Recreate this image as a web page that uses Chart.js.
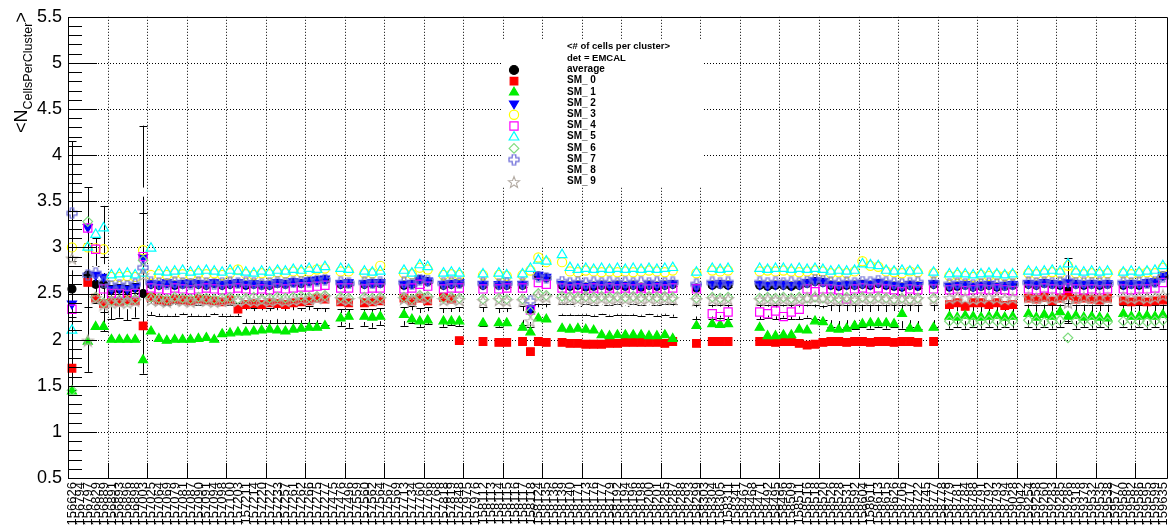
<!DOCTYPE html>
<html>
<head>
<meta charset="utf-8">
<script src="https://cdn.jsdelivr.net/npm/chart.js@4.4.1/dist/chart.umd.min.js"></script>
<style>
  html, body { margin: 0; padding: 0; background: #fff; }
  canvas { display: block; }
</style>
</head>
<body>
<canvas id="canvas" width="1174" height="527"></canvas>
<script>
// run numbers (x categories)
var runs = [
  '156626','156794','156797','156829','156889','156891','156893','156896','156898','157003',
  '157025','157064','157069','157079','157081','157087','157090','157091','157094','157098',
  '157100','157203','157211','157214','157220','157227','157233','157257','157261','157262',
  '157266','157275','157277','157475','157476','157496','157559','157560','157562','157564',
  '157567','157569','157713','157734','157760','157766','157768','157818','157819','157848',
  '157975','157976','158112','158113','158114','158115','158116','158117','158118','158124',
  '158135','158136','158139','158140','158171','158173','158176','158177','158179','158192',
  '158194','158196','158198','158200','158201','158285','158287','158288','158293','158299',
  '158303','158304','158305','158311','158341','158467','158468','158471','158492','158495',
  '158496','158509','158511','158516','158518','158520','158526','158528','158531','158592',
  '158604','158611','158613','158615','158626','158706','158717','158722','158745','158777',
  '158778','158779','158781','158784','158788','158791','158792','158793','158794','159028',
  '159042','159254','159258','159260','159283','159285','159286','159318','159379','159532',
  '159535','159538','159577','159580','159582','159586','159595','159599','159635'
];

var average = [
  2.55,null,2.7,2.6,2.6,2.54,2.55,2.54,2.56,2.5,
  2.6,2.59,2.61,2.59,2.6,2.61,2.6,2.59,2.61,2.59,
  2.6,2.61,2.59,2.6,2.59,2.59,2.61,2.6,2.62,2.61,
  2.63,2.64,2.65,null,2.6,2.61,null,2.6,2.61,2.61,
  null,null,2.59,2.6,2.65,2.63,null,2.59,2.6,2.61,
  null,null,2.59,null,2.59,2.59,null,2.59,2.33,2.69,
  2.67,null,2.59,2.58,2.59,2.57,2.58,2.59,2.58,2.59,
  2.58,2.59,2.57,2.59,2.58,2.59,2.6,null,null,2.56,
  null,2.59,2.6,2.59,null,null,null,2.59,2.58,2.59,
  2.59,2.58,2.59,2.61,2.63,2.62,2.59,2.58,2.59,2.59,
  2.6,2.59,2.61,2.59,2.58,2.57,2.59,2.58,null,2.6,
  null,2.57,2.58,2.59,2.57,2.58,2.59,2.57,2.58,2.59,
  null,2.6,2.59,2.61,2.6,2.59,2.53,2.6,2.59,2.6,
  2.59,2.6,null,2.59,2.6,2.59,2.61,2.62,2.69
];
var averageErr = [
  0.3,null,0.35,0.2,0.3,0.05,0.05,0.05,0.05,0.87,
  0.02,0.02,0.02,0.02,0.02,0.02,0.02,0.02,0.02,0.02,
  0.02,0.02,0.02,0.02,0.02,0.02,0.02,0.02,0.02,0.02,
  0.02,0.02,0.02,null,0.02,0.02,null,0.02,0.02,0.02,
  null,null,0.02,0.02,0.02,0.02,null,0.02,0.02,0.02,
  null,null,0.02,null,0.02,0.02,null,0.02,0.03,0.02,
  0.02,null,0.02,0.02,0.02,0.02,0.02,0.02,0.02,0.02,
  0.02,0.02,0.02,0.02,0.02,0.02,0.02,null,null,0.02,
  null,0.02,0.02,0.02,null,null,null,0.02,0.02,0.02,
  0.02,0.02,0.02,0.02,0.02,0.02,0.02,0.02,0.02,0.02,
  0.02,0.02,0.02,0.02,0.02,0.02,0.02,0.02,null,0.02,
  null,0.02,0.02,0.02,0.02,0.02,0.02,0.02,0.02,0.02,
  null,0.02,0.02,0.02,0.02,0.02,0.35,0.02,0.02,0.02,
  0.02,0.02,null,0.02,0.02,0.02,0.02,0.02,0.02
];

var sm0 = [
  1.69,null,2.62,2.45,2.39,2.42,2.41,2.43,2.42,2.15,
  2.46,2.43,2.42,2.44,2.43,2.42,2.44,2.43,2.42,2.41,
  2.43,2.33,2.38,2.39,2.38,2.4,2.39,2.38,2.4,2.41,
  2.42,2.45,2.44,null,2.41,2.4,null,2.4,2.41,2.42,
  null,null,2.45,2.42,2.45,2.42,null,2.46,2.44,1.99,
  null,null,1.98,null,1.97,1.97,null,1.98,1.87,1.98,
  1.97,null,1.97,1.96,1.96,1.95,1.95,1.95,1.96,1.96,
  1.97,1.97,1.97,1.97,1.97,1.96,1.98,null,null,1.96,
  null,1.98,1.98,1.98,null,null,null,1.98,1.98,1.97,
  1.98,1.98,1.96,1.94,1.95,1.97,1.98,1.98,1.97,1.98,
  1.98,1.97,1.98,1.98,1.97,1.98,1.98,1.97,null,1.98,
  null,2.38,2.4,2.36,2.4,2.4,2.38,2.4,2.37,2.38,
  null,2.45,2.44,2.46,2.42,2.45,2.48,2.44,2.45,2.44,
  2.43,2.45,null,2.42,2.41,2.42,2.41,2.42,2.43
];
var sm1 = [
  1.44,null,1.98,2.14,2.14,2.0,2.0,2.0,2.0,1.78,
  2.09,2.01,1.99,2.0,2.0,2.0,2.01,2.02,2.0,2.06,
  2.07,2.08,2.08,2.09,2.1,2.11,2.1,2.09,2.11,2.12,
  2.13,2.13,2.15,null,2.23,2.25,null,2.25,2.24,2.25,
  null,null,2.27,2.22,2.2,2.21,null,2.2,2.2,2.2,
  null,null,2.18,null,2.18,2.18,null,2.13,2.08,2.23,
  2.22,null,2.12,2.11,2.12,2.11,2.1,2.05,2.04,2.05,
  2.05,2.05,2.05,2.04,2.04,2.05,2.01,null,null,2.15,
  null,2.17,2.16,2.17,null,null,null,2.13,2.04,2.04,
  2.05,2.05,2.11,2.1,2.2,2.19,2.12,2.11,2.12,2.15,
  2.17,2.18,2.18,2.18,2.17,2.28,2.12,2.12,null,2.13,
  null,2.25,2.24,2.26,2.25,2.24,2.25,2.26,2.24,2.25,
  null,2.28,2.24,2.27,2.25,2.3,2.25,2.26,2.24,2.25,
  2.24,2.23,null,2.28,2.25,2.25,2.26,2.25,2.27
];
var sm2 = [
  2.39,null,3.22,2.7,2.68,2.55,2.56,2.55,2.57,2.89,
  2.61,2.6,2.62,2.6,2.61,2.62,2.61,2.6,2.62,2.6,
  2.61,2.62,2.6,2.61,2.6,2.6,2.62,2.61,2.63,2.62,
  2.64,2.65,2.66,null,2.61,2.62,null,2.61,2.62,2.62,
  null,null,2.6,2.61,2.66,2.64,null,2.6,2.61,2.62,
  null,null,2.6,null,2.6,2.6,null,2.6,2.34,2.7,
  2.68,null,2.6,2.59,2.6,2.58,2.59,2.6,2.59,2.6,
  2.59,2.6,2.58,2.6,2.59,2.6,2.61,null,null,2.57,
  null,2.6,2.61,2.6,null,null,null,2.6,2.59,2.6,
  2.6,2.59,2.6,2.62,2.64,2.63,2.6,2.59,2.6,2.6,
  2.61,2.6,2.62,2.6,2.59,2.58,2.6,2.59,null,2.61,
  null,2.58,2.59,2.6,2.58,2.59,2.6,2.58,2.59,2.6,
  null,2.61,2.6,2.62,2.61,2.6,2.62,2.61,2.6,2.61,
  2.6,2.61,null,2.6,2.61,2.6,2.62,2.63,2.7
];
var sm3 = [
  3.0,null,3.0,2.99,2.98,2.68,2.68,2.69,2.68,2.97,
  2.7,2.71,2.7,2.72,2.71,2.7,2.72,2.71,2.72,2.7,
  2.72,2.76,2.71,2.7,2.72,2.71,2.73,2.72,2.74,2.73,
  2.74,2.76,2.77,null,2.74,2.74,null,2.72,2.72,2.8,
  null,null,2.72,2.71,2.78,2.76,null,2.7,2.71,2.7,
  null,null,2.7,null,2.7,2.69,null,2.7,2.75,2.89,
  2.84,null,2.84,2.74,2.73,2.75,2.74,2.73,2.74,2.73,
  2.74,2.73,2.74,2.75,2.74,2.73,2.75,null,null,2.72,
  null,2.75,2.74,2.75,null,null,null,2.74,2.75,2.74,
  2.75,2.74,2.73,2.74,2.75,2.74,2.72,2.73,2.72,2.74,
  2.85,2.8,2.79,2.74,2.73,2.72,2.74,2.73,null,2.72,
  null,2.69,2.7,2.69,2.68,2.7,2.69,2.7,2.69,2.7,
  null,2.72,2.71,2.72,2.73,2.72,2.8,2.72,2.71,2.72,
  2.71,2.72,null,2.72,2.71,2.72,2.73,2.72,2.78
];
var sm4 = [
  2.33,null,3.21,2.98,2.55,2.5,2.5,2.49,2.5,2.9,
  2.56,2.55,2.54,2.56,2.55,2.54,2.55,2.56,2.55,2.54,
  2.55,2.56,2.55,2.54,2.55,2.54,2.56,2.55,2.56,2.57,
  2.57,2.58,2.59,null,2.56,2.56,null,2.55,2.56,2.56,
  null,null,2.55,2.56,2.6,2.58,null,2.55,2.56,2.56,
  null,null,2.55,null,2.55,2.56,null,2.56,2.32,2.62,
  2.6,null,2.56,2.55,2.56,2.55,2.56,2.55,2.56,2.55,
  2.56,2.55,2.56,2.55,2.56,2.55,2.56,null,null,2.55,
  null,2.28,2.25,2.3,null,null,null,2.3,2.28,2.31,
  2.25,2.3,2.33,2.55,2.52,2.55,2.55,2.54,2.44,2.55,
  2.56,2.55,2.56,2.55,2.54,2.52,2.55,2.54,null,2.55,
  null,2.54,2.55,2.53,2.54,2.55,2.54,2.55,2.54,2.53,
  null,2.55,2.54,2.56,2.55,2.54,2.56,2.55,2.54,2.55,
  2.54,2.55,null,2.55,2.54,2.55,2.55,2.56,2.62
];
var sm5 = [
  2.1,null,3.0,3.14,3.21,2.7,2.71,2.72,2.7,2.72,
  2.99,2.74,2.73,2.74,2.75,2.73,2.74,2.75,2.74,2.73,
  2.75,2.74,2.73,2.72,2.74,2.73,2.75,2.74,2.76,2.75,
  2.77,2.76,2.79,null,2.77,2.76,null,2.74,2.73,2.74,
  null,null,2.75,2.72,2.81,2.79,null,2.72,2.73,2.72,
  null,null,2.71,null,2.72,2.7,null,2.71,2.77,2.86,
  2.85,null,2.92,2.78,2.76,2.77,2.76,2.77,2.76,2.77,
  2.76,2.77,2.76,2.77,2.76,2.77,2.78,null,null,2.73,
  null,2.77,2.76,2.77,null,null,null,2.77,2.76,2.77,
  2.77,2.76,2.77,2.76,2.77,2.76,2.74,2.75,2.74,2.75,
  2.82,2.81,2.8,2.75,2.74,2.75,2.74,2.75,null,2.73,
  null,2.71,2.72,2.71,2.7,2.71,2.72,2.71,2.7,2.71,
  null,2.74,2.73,2.74,2.75,2.74,2.82,2.74,2.73,2.74,
  2.73,2.74,null,2.73,2.74,2.73,2.74,2.75,2.8
];
var sm6 = [
  1.45,null,3.28,2.46,2.4,2.42,2.43,2.42,2.44,2.86,
  2.46,2.45,2.44,2.46,2.45,2.44,2.46,2.45,2.44,2.45,
  2.46,2.44,2.45,2.46,2.44,2.45,2.46,2.45,2.46,2.47,
  2.46,2.47,2.48,null,2.46,2.45,null,2.46,2.45,2.46,
  null,null,2.46,2.44,2.48,2.47,null,2.45,2.46,2.45,
  null,null,2.44,null,2.45,2.44,null,2.44,2.3,2.5,
  2.48,null,2.47,2.47,2.46,2.47,2.46,2.47,2.46,2.47,
  2.46,2.47,2.46,2.47,2.46,2.47,2.46,null,null,2.45,
  null,2.46,2.45,2.46,null,null,null,2.45,2.46,2.45,
  2.46,2.45,2.46,2.45,2.46,2.45,2.46,2.45,2.46,2.45,
  2.46,2.45,2.46,2.45,2.44,2.45,2.44,2.45,null,2.45,
  null,2.2,2.21,2.2,2.19,2.2,2.21,2.2,2.19,2.2,
  null,2.21,2.2,2.19,2.2,2.21,2.02,2.2,2.21,2.2,
  2.2,2.19,null,2.2,2.21,2.2,2.19,2.2,2.21
];
var sm7 = [
  3.37,null,2.7,2.72,2.62,2.58,2.59,2.58,2.6,2.78,
  2.62,2.61,2.6,2.62,2.61,2.6,2.62,2.61,2.6,2.61,
  2.62,2.61,2.62,2.61,2.6,2.61,2.62,2.61,2.62,2.63,
  2.63,2.64,2.65,null,2.62,2.61,null,2.62,2.61,2.62,
  null,null,2.62,2.6,2.65,2.64,null,2.61,2.62,2.61,
  null,null,2.61,null,2.6,2.61,null,2.61,2.42,2.68,
  2.67,null,2.63,2.61,2.62,2.61,2.62,2.61,2.62,2.61,
  2.62,2.61,2.62,2.61,2.62,2.61,2.62,null,null,2.6,
  null,2.62,2.61,2.62,null,null,null,2.62,2.61,2.62,
  2.61,2.62,2.61,2.63,2.65,2.64,2.62,2.61,2.62,2.61,
  2.63,2.62,2.64,2.62,2.61,2.6,2.61,2.62,null,2.62,
  null,2.6,2.61,2.6,2.59,2.6,2.61,2.6,2.59,2.6,
  null,2.62,2.61,2.62,2.61,2.62,2.64,2.61,2.62,2.61,
  2.62,2.61,null,2.62,2.61,2.62,2.61,2.63,2.68
];
var sm8 = [
  2.8,null,2.65,2.75,2.77,2.4,2.4,2.38,2.4,3.6,
  2.35,2.33,2.32,2.33,2.34,2.33,2.32,2.33,2.34,2.33,
  2.32,2.33,2.27,2.26,2.27,2.26,2.27,2.26,2.27,2.26,
  2.27,2.26,2.25,null,2.24,2.23,null,2.24,2.23,2.25,
  null,null,2.25,2.27,2.24,2.26,null,2.24,2.25,2.25,
  null,null,2.25,null,2.24,2.25,null,2.26,2.24,2.3,
  2.3,null,2.33,2.33,2.32,2.33,2.32,2.33,2.32,2.33,
  2.32,2.33,2.32,2.33,2.32,2.33,2.32,null,null,2.3,
  null,2.3,2.31,2.3,null,null,null,2.3,2.31,2.3,
  2.31,2.3,2.3,2.31,2.3,2.29,2.26,2.25,2.26,2.25,
  2.26,2.25,2.26,2.25,2.26,2.25,2.26,2.25,null,2.26,
  null,2.25,2.26,2.25,2.26,2.25,2.26,2.25,2.26,2.25,
  null,2.26,2.25,2.26,2.25,2.26,2.3,2.25,2.26,2.25,
  2.26,2.25,null,2.26,2.25,2.26,2.25,2.26,2.25
];
var sm8Err = [
  1.35,null,1.0,0.35,0.68,0.18,0.16,0.17,0.16,0.72,
  0.08,0.07,0.06,0.07,0.06,0.07,0.06,0.07,0.06,0.07,
  0.06,0.07,0.09,0.08,0.09,0.08,0.09,0.08,0.09,0.08,
  0.09,0.08,0.09,null,0.09,0.1,null,0.09,0.1,0.09,
  null,null,0.1,0.09,0.1,0.09,null,0.1,0.09,0.1,
  null,null,0.1,null,0.1,0.09,null,0.1,0.1,0.09,
  0.09,null,0.06,0.06,0.05,0.06,0.06,0.05,0.06,0.06,
  0.05,0.06,0.06,0.05,0.06,0.06,0.07,null,null,0.08,
  null,0.08,0.07,0.08,null,null,null,0.08,0.07,0.08,
  0.07,0.08,0.08,0.07,0.08,0.08,0.12,0.13,0.12,0.13,
  0.12,0.13,0.12,0.13,0.12,0.13,0.12,0.13,null,0.12,
  null,0.13,0.12,0.13,0.12,0.13,0.12,0.13,0.12,0.13,
  null,0.12,0.13,0.12,0.13,0.12,0.1,0.13,0.12,0.13,
  0.12,0.13,null,0.12,0.13,0.12,0.13,0.12,0.13
];
var sm9 = [
  2.88,null,1.99,2.45,2.38,2.4,2.41,2.4,2.42,2.7,
  2.43,2.42,2.41,2.43,2.42,2.41,2.43,2.42,2.41,2.42,
  2.43,2.42,2.43,2.42,2.43,2.42,2.43,2.42,2.43,2.44,
  2.44,2.45,2.46,null,2.44,2.43,null,2.44,2.43,2.44,
  null,null,2.44,2.42,2.46,2.45,null,2.43,2.44,2.43,
  null,null,2.42,null,2.43,2.42,null,2.42,2.2,2.47,
  2.46,null,2.44,2.45,2.44,2.45,2.44,2.45,2.44,2.45,
  2.44,2.45,2.44,2.45,2.44,2.45,2.44,null,null,2.43,
  null,2.44,2.43,2.44,null,null,null,2.43,2.44,2.43,
  2.44,2.43,2.44,2.45,2.46,2.45,2.44,2.43,2.44,2.43,
  2.45,2.44,2.45,2.44,2.43,2.44,2.43,2.44,null,2.44,
  null,2.45,2.46,2.45,2.44,2.45,2.46,2.45,2.44,2.45,
  null,2.46,2.45,2.46,2.45,2.46,2.4,2.45,2.46,2.45,
  2.46,2.45,null,2.46,2.45,2.46,2.45,2.46,2.48
];

var legendTitle = '<# of cells per cluster>';
var legendDet = 'det = EMCAL';

[average, averageErr, sm0, sm1, sm2, sm3, sm4, sm5, sm6, sm7, sm8, sm8Err, sm9].forEach(function(a, i) {
  if (a.length !== runs.length) throw new Error('array ' + i + ' has ' + a.length + ' values');
});

// ROOT-like open markers drawn on small canvases
function openCross(color) {
  var c = document.createElement('canvas');
  c.width = 12; c.height = 12;
  var g = c.getContext('2d');
  var m = 6, a = 1.8, l = 5;
  g.strokeStyle = color; g.lineWidth = 1.2;
  g.beginPath();
  g.moveTo(m - a, m - l); g.lineTo(m + a, m - l); g.lineTo(m + a, m - a); g.lineTo(m + l, m - a);
  g.lineTo(m + l, m + a); g.lineTo(m + a, m + a); g.lineTo(m + a, m + l); g.lineTo(m - a, m + l);
  g.lineTo(m - a, m + a); g.lineTo(m - l, m + a); g.lineTo(m - l, m - a); g.lineTo(m - a, m - a);
  g.closePath(); g.stroke();
  return c;
}
function openStar(color) {
  var c = document.createElement('canvas');
  c.width = 14; c.height = 14;
  var g = c.getContext('2d');
  g.strokeStyle = color; g.lineWidth = 1.1;
  g.beginPath();
  for (var i = 0; i < 10; i++) {
    var r = i % 2 ? 2.5 : 6;
    var ang = -Math.PI / 2 + i * Math.PI / 5;
    var px = 7 + r * Math.cos(ang), py = 7.5 + r * Math.sin(ang);
    if (i === 0) g.moveTo(px, py); else g.lineTo(px, py);
  }
  g.closePath(); g.stroke();
  return c;
}

function series(label, data, style, fill, line, radius, order, extra) {
  var ds = {
    label: label, data: data, showLine: false, order: order,
    pointStyle: style, pointRadius: radius, pointHoverRadius: radius,
    pointBackgroundColor: fill, pointBorderColor: line, pointBorderWidth: 1.2,
    backgroundColor: fill, borderColor: line
  };
  for (var k in extra) ds[k] = extra[k];
  return ds;
}

var none = 'rgba(0,0,0,0)';
var datasets = [
  series('average', average, 'circle', '#000', '#000', 4, 25, { errs: averageErr }),
  series('SM_ 0', sm0, 'rect', '#ff0000', '#ff0000', 5.4, 19),
  series('SM_ 1', sm1, 'triangle', '#00ee00', '#00ee00', 5.2, 18),
  series('SM_ 2', sm2, 'triangle', '#0000ff', '#0000ff', 5.2, 17, { pointRotation: 180 }),
  series('SM_ 3', sm3, 'circle', none, '#ffff00', 4.6, 16),
  series('SM_ 4', sm4, 'rect', none, '#ff00ff', 5.8, 15),
  series('SM_ 5', sm5, 'triangle', none, '#00ffff', 5.6, 14),
  series('SM_ 6', sm6, 'rectRot', none, '#7fdc7f', 4.8, 13),
  series('SM_ 7', sm7, openCross('#6868d8'), none, '#6868d8', 6, 12),
  series('SM_ 8', sm8, 'circle', '#ffffff', '#ffffff', 4, 30, { errs: sm8Err }),
  series('SM_ 9', sm9, openStar('#b4aca4'), none, '#b4aca4', 6, 10)
];

var rootPad = {
  id: 'rootPad',
  beforeDatasetsDraw: function(chart) {
    var ctx = chart.ctx, a = chart.chartArea, xs = chart.scales.x, ys = chart.scales.y;
    var half = (xs.getPixelForValue(1) - xs.getPixelForValue(0)) / 2;
    ctx.save();
    ctx.strokeStyle = '#000';
    ctx.lineWidth = 1;
    ctx.setLineDash([1, 2]);
    ctx.beginPath();
    for (var b = 5; b < runs.length; b += 5) {
      var px = Math.round(xs.getPixelForValue(b) - half) + 0.5;
      ctx.moveTo(px, a.top); ctx.lineTo(px, a.bottom);
    }
    ys.ticks.forEach(function(t) {
      if (t.value <= ys.min || t.value >= ys.max) return;
      var py = Math.round(ys.getPixelForValue(t.value)) + 0.5;
      ctx.moveTo(a.left, py); ctx.lineTo(a.right, py);
    });
    ctx.stroke();
    ctx.setLineDash([]);

    // run labels, vertical, reading upwards
    ctx.fillStyle = '#000';
    ctx.font = '13px "Liberation Sans", Arial, sans-serif';
    ctx.textAlign = 'right';
    ctx.textBaseline = 'middle';
    runs.forEach(function(r, k) {
      ctx.save();
      ctx.translate(xs.getPixelForValue(k) + 0.5, a.bottom + 4);
      ctx.rotate(-Math.PI / 2);
      ctx.fillText(r, 0, 0);
      ctx.restore();
    });

    // error bars
    ctx.beginPath();
    ctx.rect(a.left, a.top, a.right - a.left, a.bottom - a.top);
    ctx.clip();
    ctx.beginPath();
    chart.data.datasets.forEach(function(ds, i) {
      if (!ds.errs) return;
      var meta = chart.getDatasetMeta(i);
      ds.data.forEach(function(v, k) {
        var e = ds.errs[k];
        if (v == null || e == null) return;
        var px = Math.round(meta.data[k].x) + 0.5;
        var y1 = ys.getPixelForValue(v + e), y2 = ys.getPixelForValue(v - e);
        ctx.moveTo(px, y1); ctx.lineTo(px, y2);
        ctx.moveTo(px - 4, Math.round(y1) + 0.5); ctx.lineTo(px + 4, Math.round(y1) + 0.5);
        ctx.moveTo(px - 4, Math.round(y2) + 0.5); ctx.lineTo(px + 4, Math.round(y2) + 0.5);
      });
    });
    ctx.stroke();
    ctx.restore();
  },
  afterDatasetsDraw: function(chart) {
    var ctx = chart.ctx, a = chart.chartArea, xs = chart.scales.x, ys = chart.scales.y;
    var half = (xs.getPixelForValue(1) - xs.getPixelForValue(0)) / 2;
    ctx.save();
    ctx.strokeStyle = '#000';
    ctx.lineWidth = 1;
    ctx.beginPath();
    // frame
    ctx.rect(Math.round(a.left) + 0.5, Math.round(a.top) + 0.5, Math.round(a.right - a.left), Math.round(a.bottom - a.top));
    // x ticks
    for (var b = 5; b < runs.length; b += 5) {
      var px = Math.round(xs.getPixelForValue(b) - half) + 0.5;
      ctx.moveTo(px, a.bottom); ctx.lineTo(px, a.bottom - 15);
    }
    // y ticks, major every 0.5 and minor every 0.1
    for (var j = 0; j <= 50; j++) {
      var v = ys.min + j * 0.1;
      var py = Math.round(ys.getPixelForValue(v)) + 0.5;
      var len = (j % 5 === 0) ? 29 : 14;
      ctx.moveTo(a.left, py); ctx.lineTo(a.left + len, py);
    }
    ctx.stroke();

    // legend
    var L = { left: 503, top: 40, right: 703, bottom: 187 };
    ctx.fillStyle = '#fff';
    ctx.fillRect(L.left, L.top, L.right - L.left, L.bottom - L.top);
    ctx.fillStyle = '#000';
    ctx.textBaseline = 'middle';
    ctx.textAlign = 'left';
    ctx.font = 'bold 9.5px "Liberation Sans", Arial, sans-serif';
    ctx.fillText(legendTitle, 567, 46);
    ctx.fillText(legendDet, 567, 58.5);
    ctx.font = 'bold 10px "Liberation Sans", Arial, sans-serif';
    chart.data.datasets.forEach(function(ds, i) {
      var ty = 69.5 + i * 11.2;
      ctx.fillStyle = '#000';
      ctx.fillText(ds.label, 567, ty);
      ctx.save();
      ctx.fillStyle = ds.pointBackgroundColor;
      ctx.strokeStyle = ds.pointBorderColor;
      ctx.lineWidth = ds.pointBorderWidth;
      Chart.helpers.drawPoint(ctx, {
        pointStyle: ds.pointStyle, rotation: ds.pointRotation || 0,
        radius: ds.label === 'average' ? 4.5 : ds.pointRadius, borderWidth: ds.pointBorderWidth
      }, 514, ty + 0.5);
      ctx.restore();
    });

    // y axis title <N_{CellsPerCluster}>
    ctx.fillStyle = '#000';
    ctx.translate(27, 133);
    ctx.rotate(-Math.PI / 2);
    ctx.textAlign = 'left';
    ctx.textBaseline = 'alphabetic';
    ctx.font = '18px "Liberation Sans", Arial, sans-serif';
    ctx.fillText('<N', 0, 0);
    var w1 = ctx.measureText('<N').width;
    ctx.font = '12.5px "Liberation Sans", Arial, sans-serif';
    ctx.fillText('CellsPerCluster', w1, 5);
    var w2 = ctx.measureText('CellsPerCluster').width;
    ctx.font = '18px "Liberation Sans", Arial, sans-serif';
    ctx.fillText('>', w1 + w2, 0);
    ctx.restore();
  }
};

var ctx = document.getElementById('canvas').getContext('2d');
var chart = new Chart(ctx, {
  type: 'line',
  data: { labels: runs, datasets: datasets },
  options: {
    responsive: false,
    animation: false,
    devicePixelRatio: 1,
    layout: { padding: { top: 12, right: 3, left: 0, bottom: 0 } },
    plugins: { legend: { display: false }, tooltip: { enabled: false } },
    scales: {
      x: {
        type: 'category',
        offset: true,
        grid: { display: false, drawTicks: false },
        border: { display: false },
        ticks: { display: false },
        afterFit: function(s) { s.height = 49; }
      },
      y: {
        min: 0.5, max: 5.5,
        grid: { display: false, drawTicks: false },
        border: { display: false },
        ticks: {
          stepSize: 0.5, padding: 6, color: '#000',
          font: { family: '"Liberation Sans", Arial, sans-serif', size: 18 },
          callback: function(v) { return String(v); }
        },
        afterFit: function(s) { s.width = 68; }
      }
    }
  },
  plugins: [rootPad]
});
</script>
</body>
</html>
